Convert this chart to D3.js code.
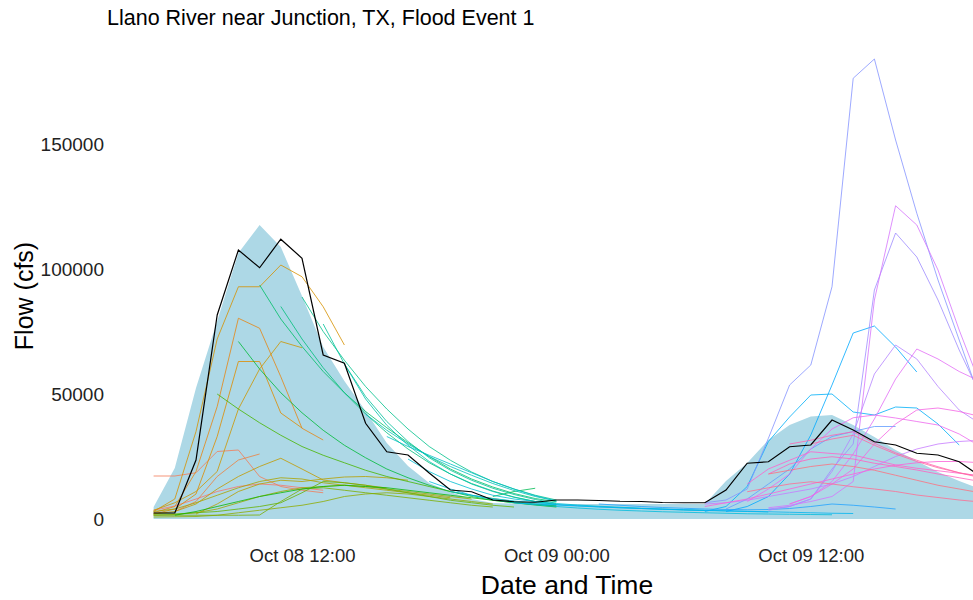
<!DOCTYPE html>
<html>
<head>
<meta charset="utf-8">
<script src="https://cdn.jsdelivr.net/npm/d3@7"></script>
<style>
  html, body { margin: 0; padding: 0; background: #fff; }
  svg { display: block; font-family: "Liberation Sans", Arial, sans-serif; }
</style>
</head>
<body>
<svg id="chart" width="973" height="600"></svg>
<script>
// ---- data -------------------------------------------------------------
const chartTitle = "Llano River near Junction, TX, Flood Event 1";
const seriesStart = "2018-10-08 05:00";

// hourly observed flow (cfs) from seriesStart
const observedFlow = [2400, 2400, 23600, 81600, 107600, 100500, 111900, 104300, 65600, 62300,
  38300, 26900, 25600, 18400, 11600, 10900, 7600, 6900, 6700, 7600,
  7600, 7400, 7100, 7000, 6600, 6500, 6500, 11600, 22300, 22900,
  28900, 29600, 39600, 35600, 30900, 29600, 26300, 25600, 22900, 17000];

// hourly analysis flow (cfs) from seriesStart, drawn as the shaded area
const analysisFlow = [4800, 20400, 52400, 79200, 106400, 117600, 108800, 89200, 68800, 55200,
  43200, 30400, 21200, 14400, 10800, 8000, 6400, 6200, 6100, 6000,
  6000, 6000, 6000, 6000, 6000, 6000, 6000, 15200, 22400, 31600,
  37600, 41000, 41600, 37600, 32800, 27600, 23200, 18800, 15200, 12000];

// forecast runs: first valid hour of each run
const forecastStart = [
  "2018-10-08 05:00", "2018-10-08 05:00", "2018-10-08 06:00", "2018-10-08 05:00",
  "2018-10-08 05:00", "2018-10-08 05:00", "2018-10-08 05:00", "2018-10-08 05:00",
  "2018-10-08 07:00", "2018-10-08 05:00", "2018-10-08 05:00", "2018-10-08 05:00",
  "2018-10-08 05:00", "2018-10-08 05:00", "2018-10-08 08:00", "2018-10-08 06:00",
  "2018-10-08 09:00", "2018-10-08 21:00", "2018-10-08 10:00", "2018-10-08 11:00",
  "2018-10-08 12:00", "2018-10-08 13:00", "2018-10-08 14:00", "2018-10-08 15:00",
  "2018-10-08 16:00", "2018-10-08 17:00", "2018-10-08 18:00", "2018-10-08 19:00",
  "2018-10-08 22:00", "2018-10-09 07:00", "2018-10-09 08:00", "2018-10-09 02:00",
  "2018-10-09 08:00", "2018-10-09 07:00", "2018-10-09 10:00", "2018-10-09 10:00",
  "2018-10-09 07:00", "2018-10-09 10:00", "2018-10-09 11:00", "2018-10-09 09:00",
  "2018-10-09 11:00", "2018-10-09 07:00", "2018-10-09 09:00", "2018-10-09 10:00",
  "2018-10-09 11:00", "2018-10-09 12:00", "2018-10-09 09:00", "2018-10-09 10:00"
];

// forecast runs: hourly flow (cfs)
const forecastFlow = [
  [3500, 5200, 8000, 11000, 13000, 14000, 13500, 12500, 11500],
  [17200, 17200, 18500, 27000, 27600, 17000, 13000, 11500, 10500],
  [3000, 7000, 17000, 23600, 26000],
  [2500, 5000, 19000, 45000, 80300, 76300, 56900, 36300, 31600],
  [2000, 4000, 10000, 33000, 63000, 63000, 42400, 36400],
  [3000, 8000, 35000, 72000, 92900, 92900, 101600, 96900, 84900, 69600],
  [3500, 6500, 11000, 19000, 44000, 60000, 71000, 68500],
  [2000, 3000, 6000, 12000, 17000, 21000, 24300, 20000, 15600, 14500, 13500, 12400],
  [2000, 6000, 11000, 14000, 15500, 15000, 16000, 16800, 17000, 16500, 15500],
  [3000, 4000, 6500, 9500, 12500, 15000, 16500, 16000, 14500, 13500, 12500, 11500, 10500, 9500, 8500],
  [1500, 1800, 2500, 4000, 6500, 9000, 11000, 12500, 13000, 13500, 13000, 12000, 11000, 10000, 9000, 8000],
  [800, 900, 1000, 1500, 2500, 3500, 4500, 5500, 7000, 9000, 10000, 10500, 10000, 9000, 8000, 7000, 6000],
  [1500, 1500, 1500, 1500, 1500, 1600, 7000, 12000, 12500, 11500, 10500, 9500, 8500, 7500, 6500, 5500, 4800],
  [2000, 2000, 2500, 3000, 4000, 5000, 6500, 10500, 15000, 14500, 13500, 12000, 10500, 9000, 7500, 6500, 5500, 4800],
  [50000, 44000, 38500, 33500, 29000, 25500, 22500, 19500, 17000, 15000, 13000, 11000, 9500, 8200, 7000, 6000, 5200],
  [1500, 3000, 5000, 7000, 9000, 10500, 12000, 13000, 13500, 13000, 12500, 11500, 10500, 9500, 8500, 7500, 6500, 5600, 4800],
  [71000, 60000, 50500, 42500, 35500, 29500, 24500, 20000, 16500, 13500, 11000, 9000, 7500, 6500, 5800, 5200],
  [9000, 11000, 12300],
  [93600, 80000, 69000, 59000, 50500, 43000, 36500, 30500, 25000, 20000, 16000, 12800, 10200, 8200, 6900],
  [85000, 72000, 60500, 50500, 42000, 34500, 28000, 22500, 18000, 14200, 11200, 8800, 7000, 5800],
  [88800, 75000, 63500, 53000, 44000, 36000, 29000, 23500, 18800, 15000, 12000, 9500, 7600],
  [78000, 62000, 49000, 39000, 31000, 24500, 19500, 15500, 12300, 9800, 7800, 6300],
  [62000, 48000, 37500, 29500, 23000, 18000, 14000, 11000, 8700, 7000, 5800],
  [42000, 35500, 30000, 25000, 21000, 17500, 14200, 11400, 9000, 7200],
  [33000, 29000, 25500, 22000, 18500, 15000, 12000, 9300, 7200],
  [24000, 19000, 15000, 12000, 9500, 8000, 7000, 6200, 5600, 5100, 4700, 4300, 4000, 3700, 3400],
  [15000, 12000, 9500, 7800, 6600, 5700, 5000, 4400, 3900, 3500, 3200, 2900, 2700, 2500, 2300, 2100, 2000, 1900, 1800, 1700],
  [11000, 9500, 8200, 7200, 6400, 5800, 5300, 4900, 4500, 4200, 3900, 3600, 3400, 3200, 3000, 2800],
  [6500, 6000, 5600, 5200, 4800, 4500, 4200, 3900, 3700, 3500, 3300, 3100, 2900, 2700, 2500, 2300, 2200],
  [3000, 5000, 13000, 31000, 40800, 49600, 50000, 42800, 41600, 44800, 44400, 38000, 29600],
  [3000, 5000, 9000, 18000, 33600, 53600, 74400, 77200, 68800, 58800],
  [6000, 5500, 5000, 4600, 4300, 4000, 3800, 3700, 3800, 4200, 5000, 6000, 5500, 4800, 4000],
  [4000, 8000, 14000, 20000, 28000, 33000, 35000, 37000, 37000],
  [6500, 7600, 12000, 32300, 53600, 61600, 92900, 176300, 184000, 151600, 122300, 95600, 71600, 47600],
  [4000, 5000, 8000, 20000, 30000, 91600, 114400, 104800, 87600, 67600, 49600],
  [3500, 5000, 8000, 19000, 34000, 58000, 69600, 64000, 53000, 43600, 38000],
  [6000, 6500, 7500, 9000, 10500, 12000, 14000, 17000, 21000, 25000, 28000, 30000, 31000, 31500],
  [4500, 5500, 7000, 9000, 15000, 87600, 125300, 117600, 99600, 75600, 53600],
  [6000, 9000, 15000, 26000, 40000, 56000, 68000, 64000, 59000, 55000],
  [7000, 12000, 18000, 28000, 36000, 40500, 41600, 40400, 39000, 37600, 34000, 29000],
  [6000, 9000, 14000, 20000, 30000, 38000, 43600, 44400, 43000, 41000],
  [5000, 6500, 8000, 10000, 12000, 14000, 16000, 18000, 20000, 21500, 22500, 23000, 23000, 22500],
  [14000, 20000, 23500, 26900, 26200, 25600, 23600, 21600, 20300, 19300, 18300, 17300],
  [18000, 22000, 24000, 24900, 24000, 22300, 21000, 19600, 18000, 16500, 15000],
  [30000, 31500, 33500, 34900, 30300, 26500, 23500, 20900, 18500, 17000],
  [30000, 32000, 33500, 29500, 26000, 23000, 20500, 18500, 16500],
  [10900, 12500, 14000, 14900, 14000, 12900, 12000, 11000, 9600, 8600, 7600, 6800],
  [18000, 19500, 21000, 22000, 21000, 19500, 17500, 15500, 13500, 12000, 10500]
];

const xTickTimes = ["2018-10-08 12:00", "2018-10-09 00:00", "2018-10-09 12:00"];
const yTickValues = [0, 50000, 100000, 150000];

// ---- helpers ----------------------------------------------------------
const parseTime = d3.utcParse("%Y-%m-%d %H:%M");
const hourly = (start, values) => {
  const t0 = parseTime(start);
  return values.map((v, i) => ({ t: d3.utcHour.offset(t0, i), v }));
};

// ggplot-style hue palette (polar CIELUV, c = 100, l = 65)
function hueColour(h) {
  const L = 65, C = 100, hr = h * Math.PI / 180;
  const U = C * Math.cos(hr), V = C * Math.sin(hr);
  const WX = 95.047, WY = 100.0, WZ = 108.883;
  const Y = WY * (L > 7.999592 ? Math.pow((L + 16) / 116, 3) : L / 903.3);
  const tt = WX + WY + WZ, x = WX / tt, y = WY / tt;
  const uN = 2 * x / (6 * y - x + 1.5), vN = 4.5 * y / (6 * y - x + 1.5);
  const u = U / (13 * L) + uN, v = V / (13 * L) + vN;
  const X = 9.0 * Y * u / (4 * v);
  const Z = -X / 3 - 5 * Y + 3 * Y / v;
  const gam = c => c > 0.00304 ? 1.055 * Math.pow(c, 1 / 2.4) - 0.055 : 12.92 * c;
  const cl = c => Math.round(255 * Math.max(0, Math.min(1, c)));
  const r = gam((3.240479 * X - 1.537150 * Y - 0.498535 * Z) / WY);
  const g = gam((-0.969256 * X + 1.875992 * Y + 0.041556 * Z) / WY);
  const b = gam((0.055648 * X - 0.204043 * Y + 1.057311 * Z) / WY);
  return d3.rgb(cl(r), cl(g), cl(b)).formatHex();
}
const nRuns = forecastFlow.length;
const runColour = d3.scaleOrdinal()
  .domain(d3.range(nRuns))
  .range(d3.range(nRuns).map(k => hueColour(15 + 360 * k / nRuns)));

// ---- scales -----------------------------------------------------------
const svg = d3.select("#chart");
const x = d3.scaleUtc()
  .domain([parseTime("2018-10-08 05:00"), parseTime("2018-10-09 20:00")])
  .range([153.6, 980.4]);
const y = d3.scaleLinear().domain([0, 150000]).range([519, 144]);

const obs = hourly(seriesStart, observedFlow);
const ana = hourly(seriesStart, analysisFlow);
const runs = forecastFlow.map((vals, k) => ({ k, pts: hourly(forecastStart[k], vals) }));

// ---- marks ------------------------------------------------------------
svg.append("path")
  .datum(ana)
  .attr("fill", "lightblue")
  .attr("d", d3.area().x(d => x(d.t)).y0(y(0)).y1(d => y(d.v)));

const line = d3.line().x(d => x(d.t)).y(d => y(d.v));

svg.append("g").selectAll("path")
  .data(runs)
  .join("path")
  .attr("fill", "none")
  .attr("stroke", d => runColour(d.k))
  .attr("stroke-width", 1)
  .attr("stroke-opacity", 0.8)
  .attr("d", d => line(d.pts));

svg.append("path")
  .datum(obs)
  .attr("fill", "none")
  .attr("stroke", "#000")
  .attr("stroke-width", 1.2)
  .attr("d", line);

// ---- axes (text only) ---------------------------------------------------
const xAxis = d3.axisBottom(x)
  .tickValues(xTickTimes.map(parseTime))
  .tickFormat(d3.utcFormat("%b %d %H:%M"))
  .tickSize(0).tickPadding(0);
const gx = svg.append("g").attr("transform", "translate(0,549)").call(xAxis);
gx.select(".domain").remove();
gx.selectAll("text").attr("font-size", 18.5).attr("fill", "#222")
  .attr("font-family", "Liberation Sans, Arial, sans-serif");

const yAxis = d3.axisLeft(y).tickValues(yTickValues).tickFormat(d3.format("d"))
  .tickSize(0).tickPadding(0);
const gy = svg.append("g").attr("transform", "translate(104,0)").call(yAxis);
gy.select(".domain").remove();
gy.selectAll("text").attr("font-size", 19).attr("fill", "#222")
  .attr("font-family", "Liberation Sans, Arial, sans-serif");

svg.append("text")
  .attr("x", 107).attr("y", 25)
  .attr("font-size", 21.5).attr("fill", "#000")
  .text(chartTitle);

svg.append("text")
  .attr("x", 567).attr("y", 594)
  .attr("text-anchor", "middle")
  .attr("font-size", 26.5).attr("fill", "#000")
  .text("Date and Time");

svg.append("text")
  .attr("transform", "translate(33,296) rotate(-90)")
  .attr("text-anchor", "middle")
  .attr("font-size", 25).attr("fill", "#000")
  .text("Flow (cfs)");
</script>
</body>
</html>
